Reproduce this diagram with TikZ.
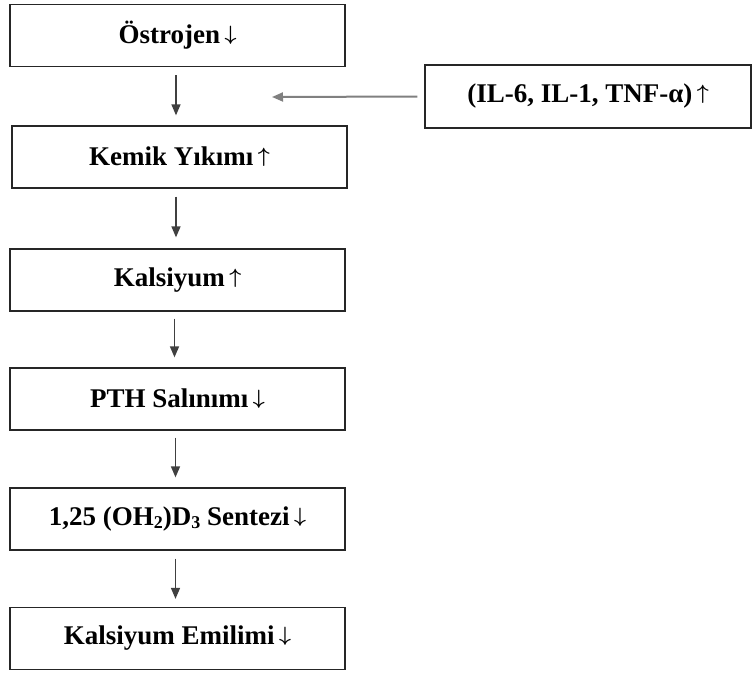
\documentclass[tikz,border=0pt]{standalone}
\usepackage{fontspec}
\setmainfont{Liberation Serif}
\usetikzlibrary{arrows.meta}
\newcommand{\sbs}[1]{\raisebox{-0.25ex}{\fontsize{18}{18}\selectfont #1}}
\newcommand{\dn}{\,\raisebox{3pt}{\fontsize{22}{22}\selectfont\boldmath$\downarrow$}}
\newcommand{\up}{\,\raisebox{3pt}{\fontsize{22}{22}\selectfont\boldmath$\uparrow$}}
\begin{document}
\begin{tikzpicture}[x=1pt,y=-1pt,
  box/.style={draw=black!85,line width=1.3pt,rectangle,minimum width=335pt,minimum height=62pt,inner sep=0pt,font=\fontsize{27}{30}\selectfont\bfseries},
  arr/.style={draw=black!75,line width=1.5pt,-{Triangle[length=11pt,width=9pt]}},
  garr/.style={draw=black!50,line width=2pt,-{Triangle[length=11pt,width=9pt]}}]
\useasboundingbox (0,0) rectangle (752,673);
\node[box] (b1) at (177.5,35.5) {Östrojen\dn};
\node[box] (b2) at (179.5,157) {Kemik Yıkımı\up};
\node[box] (b3) at (177.5,280) {Kalsiyum\up};
\node[box] (b4) at (177.5,399) {PTH Salınımı\dn};
\node[box] (b5) at (177.5,519) {1,25 (OH\sbs{2})D\sbs{3} Sentezi\dn};
\node[box] (b6) at (177.5,638.5) {Kalsiyum Emilimi\dn};
\node[box,minimum width=326pt,minimum height=63pt] (il) at (588,96.5) {(IL-6, IL-1, TNF-α)\up};
\coordinate (tip) at (272,97);
\draw[arr] ([xshift=-1.5pt,yshift=-8pt]b1.south) -- ([xshift=-3.5pt,yshift=10pt]b2.north);
\draw[arr] ([xshift=-3.5pt,yshift=-8pt]b2.south) -- ([xshift=-1.5pt,yshift=11pt]b3.north);
\draw[arr] ([xshift=-3pt,yshift=-7pt]b3.south) -- ([xshift=-3pt,yshift=10pt]b4.north);
\draw[arr] ([xshift=-2pt,yshift=-7pt]b4.south) -- ([xshift=-2pt,yshift=10pt]b5.north);
\draw[arr] ([xshift=-2pt,yshift=-8pt]b5.south) -- ([xshift=-2pt,yshift=8pt]b6.north);
\draw[garr] ([xshift=-7pt]il.west) -- (tip);
\end{tikzpicture}
\end{document}
